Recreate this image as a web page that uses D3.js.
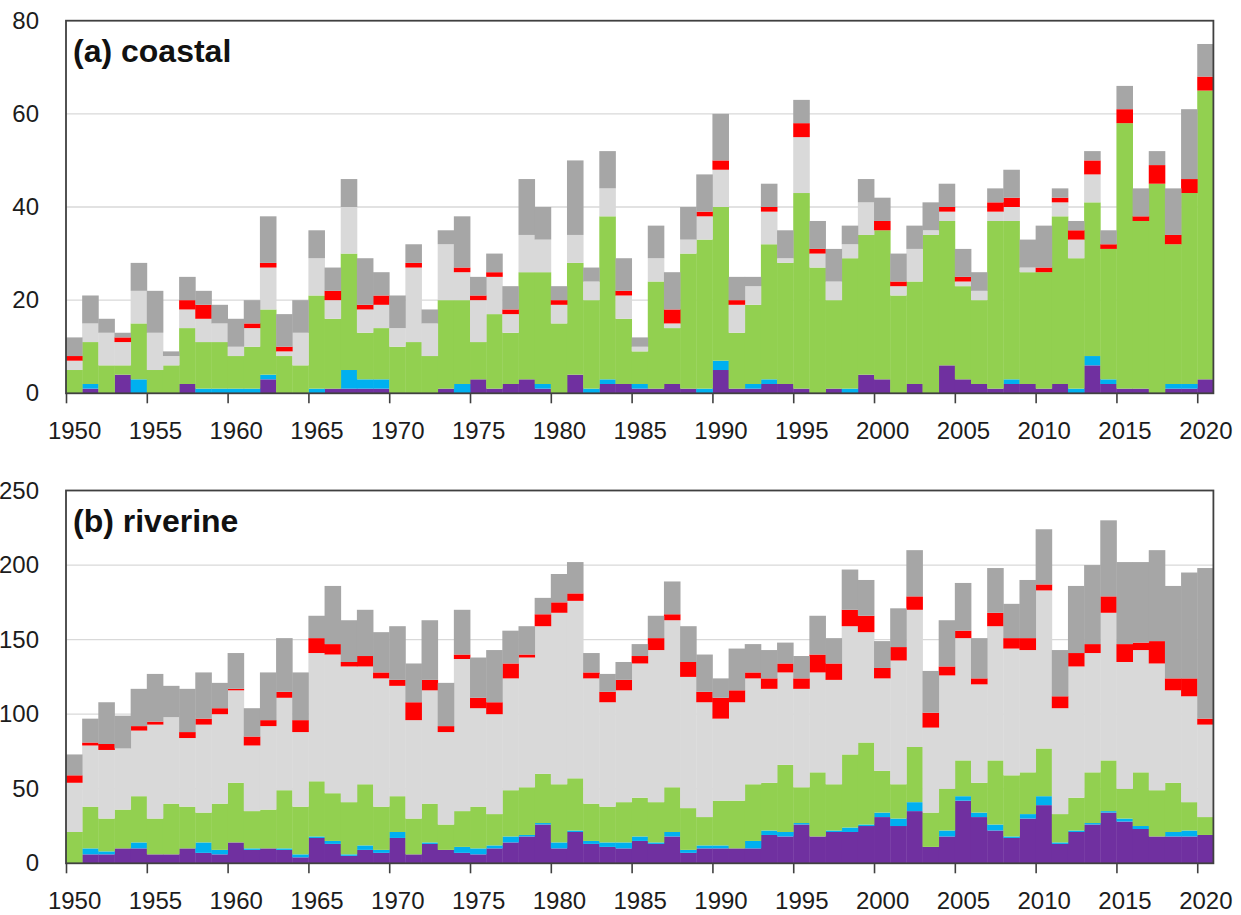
<!DOCTYPE html>
<html>
<head>
<meta charset="utf-8">
<script src="https://cdn.jsdelivr.net/npm/d3@7"></script>
<style>
  html, body { margin: 0; padding: 0; background: #ffffff; }
  svg { display: block; font-family: "Liberation Sans", Arial, sans-serif; }
</style>
</head>
<body>
<svg id="chart" width="1241" height="915"></svg>
<script>
// ---- data -------------------------------------------------------------
const years = d3.range(1950, 2021);
const xTickYears = [1950, 1955, 1960, 1965, 1970, 1975, 1980, 1985, 1990, 1995, 2000, 2005, 2010, 2015, 2020];
const coastalTicks = [0, 20, 40, 60, 80];
const riverineTicks = [0, 50, 100, 150, 200, 250];

// stacking order, bottom to top
const seriesColors = ["#7030A0", "#00B0F0", "#92D050", "#D9D9D9", "#FF0000", "#A6A6A6"];

// (a) coastal, 1950–2020
const coastalPurple = [0,1,0,4,0,0,0,2,0,0, 0,0,3,0,0,0,1,1,1,1, 0,0,0,1,0,3,1,2,3,1, 0,4,0,2,2,1,1,2,1,0, 5,1,1,2,2,1,0,1,0,4, 3,0,2,0,6,3,2,1,2,2, 1,2,0,6,2,1,1,0,1,1, 3];
const coastalBlue   = [0,1,0,0,3,0,0,0,1,1, 1,1,1,0,0,1,0,4,2,2, 0,0,0,0,2,0,0,0,0,1, 0,0,1,1,0,1,0,0,0,1, 2,0,1,1,0,0,0,0,1,0, 0,0,0,0,0,0,0,0,1,0, 0,0,1,2,1,0,0,0,1,1, 0];
const coastalGreen  = [5,9,6,2,12,5,6,12,10,10, 7,9,14,8,6,20,15,25,10,11, 10,11,8,19,18,8,16,11,23,24, 15,24,19,35,14,7,23,12,29,32, 33,12,17,29,26,42,27,19,28,30, 32,21,22,34,31,20,18,36,34,24, 25,36,28,33,28,57,36,45,30,41, 62];
const coastalLight  = [2,4,7,5,7,8,2,4,5,4, 2,4,9,1,7,8,4,10,5,5, 4,16,7,12,6,9,8,4,8,7, 4,6,4,6,5,1,5,1,3,5, 8,6,4,7,1,12,3,4,3,7, 0,2,7,1,2,1,2,2,3,1, 0,3,4,6,0,0,0,0,0,0, 0];
const coastalRed    = [1,0,0,1,0,0,0,2,3,0, 0,1,1,1,0,0,2,0,1,2, 0,1,0,0,1,1,1,1,0,0, 1,0,0,0,1,0,0,3,0,1, 2,1,0,1,0,3,1,0,0,0, 2,1,0,0,1,1,0,2,2,0, 1,1,2,3,1,3,1,4,2,3, 3];
const coastalDark   = [4,6,3,1,6,9,1,5,3,4, 6,5,10,7,7,6,5,6,10,5, 7,4,3,3,11,4,4,5,12,7, 3,16,3,8,7,2,7,8,7,8, 10,5,2,5,6,5,6,7,4,5, 5,6,5,6,5,6,4,3,6,6, 9,2,2,2,3,5,6,3,10,15, 7];

// (b) riverine, 1950–2020
const riverinePurple = [0,6,6,10,10,6,6,10,7,6, 14,9,10,9,4,17,13,5,9,7, 17,6,13,9,7,6,10,14,18,26, 10,21,13,11,10,15,13,18,7,10, 10,10,10,19,18,26,18,21,21,25, 31,25,35,11,18,42,31,22,17,30, 39,13,21,26,34,28,23,18,18,18, 19];
const riverineBlue   = [0,4,2,0,4,0,0,0,7,3, 0,1,0,1,2,1,2,1,3,2, 4,0,1,0,4,4,2,4,1,1, 4,1,2,3,4,3,1,3,2,2, 2,0,5,3,3,1,0,1,3,1, 3,5,6,0,4,3,3,4,1,3, 6,1,1,1,1,2,2,0,3,4, 0];
const riverineGreen  = [21,28,22,26,31,24,34,28,20,31, 40,25,26,39,32,37,32,35,41,29, 24,24,26,17,24,28,21,31,32,33, 39,35,25,24,27,26,27,30,28,19, 30,32,38,32,45,24,43,31,49,55, 28,23,37,23,28,24,20,43,41,28, 32,19,22,34,34,20,36,31,33,19, 12];
const riverineLight  = [33,41,46,41,44,63,58,46,59,60, 62,44,56,62,50,86,93,91,79,86, 74,66,76,62,102,66,67,75,87,99, 115,119,84,70,75,90,102,112,88,77, 55,66,71,63,62,66,67,70,86,74, 62,83,92,57,76,82,66,90,85,82, 106,71,88,80,99,85,82,85,62,71, 62];
const riverineRed    = [5,2,4,0,3,2,0,4,4,4, 1,6,4,4,8,10,7,3,7,4, 4,12,7,4,3,7,8,10,2,8, 7,5,4,7,7,5,8,4,10,7, 14,8,4,7,6,7,12,11,11,11, 7,9,9,10,6,5,4,9,7,8, 4,8,9,6,11,12,5,15,8,12, 4];
const riverineDark   = [14,16,28,22,25,32,21,29,31,17, 24,19,32,36,32,15,39,28,31,27, 36,26,40,29,30,27,35,22,19,11, 19,21,13,12,12,8,15,22,24,25, 13,28,19,19,14,15,26,17,27,24, 18,26,31,28,31,32,27,30,23,39, 37,31,45,53,51,55,54,61,62,71, 101];

const panels = [
  { title: "(a) coastal",  top: 20.7,  bottom: 393.3, yTicks: coastalTicks,
    series: [coastalPurple, coastalBlue, coastalGreen, coastalLight, coastalRed, coastalDark] },
  { title: "(b) riverine", top: 490.5, bottom: 863.3, yTicks: riverineTicks,
    series: [riverinePurple, riverineBlue, riverineGreen, riverineLight, riverineRed, riverineDark] }
];

// ---- drawing ----------------------------------------------------------
const svg = d3.select("#chart");
const left = 66, right = 1213.4;
const textColor = "#1c1c1c";
const frameColor = "#404040";

const x = d3.scaleLinear().domain([1950, 2021]).range([left, right]);
const keys = seriesColors.map((c, i) => "s" + i);

panels.forEach(p => {
  const yMax = p.yTicks[p.yTicks.length - 1];
  const y = d3.scaleLinear().domain([0, yMax]).range([p.bottom, p.top]);
  const g = svg.append("g");

  // horizontal gridlines
  g.append("g").selectAll("line")
    .data(p.yTicks.filter(t => t > 0 && t < yMax))
    .join("line")
    .attr("x1", left).attr("x2", right)
    .attr("y1", d => y(d)).attr("y2", d => y(d))
    .attr("stroke", "#d9d9d9").attr("stroke-width", 1.3);

  // stacked bars
  const rows = years.map((yr, i) => {
    const r = { year: yr };
    keys.forEach((k, j) => { r[k] = p.series[j][i]; });
    return r;
  });
  const stacked = d3.stack().keys(keys)(rows);

  g.append("g").selectAll("g")
    .data(stacked)
    .join("g")
    .attr("fill", (d, i) => seriesColors[i])
    .selectAll("rect")
    .data(d => d.filter(s => s[1] > s[0]))
    .join("rect")
    .attr("x", d => x(d.data.year))
    .attr("width", d => x(d.data.year + 1) - x(d.data.year) + 0.4)
    .attr("y", d => y(d[1]))
    .attr("height", d => y(d[0]) - y(d[1]));

  // plot frame
  g.append("rect")
    .attr("x", left).attr("y", p.top)
    .attr("width", right - left).attr("height", p.bottom - p.top)
    .attr("fill", "none").attr("stroke", frameColor).attr("stroke-width", 1.8);

  // y axis labels
  const yAxis = g.append("g")
    .attr("transform", `translate(${left},0)`)
    .call(d3.axisLeft(y).tickValues(p.yTicks).tickSize(0).tickPadding(27).tickFormat(d3.format("d")));
  yAxis.select(".domain").remove();
  yAxis.selectAll("text")
    .attr("fill", textColor).attr("font-size", 24)
    .attr("font-family", '"Liberation Sans", Arial, sans-serif');

  // x axis: ticks at bar edges, labels centred on the bars
  const halfBar = (x(1951) - x(1950)) / 2;
  const xAxis = g.append("g")
    .attr("transform", `translate(0,${p.bottom})`)
    .call(d3.axisBottom(x).tickValues(xTickYears).tickSize(10).tickFormat(d3.format("d")));
  xAxis.select(".domain").remove();
  xAxis.selectAll(".tick line").attr("stroke", frameColor).attr("stroke-width", 1.6);
  xAxis.selectAll("text")
    .attr("x", halfBar).attr("y", 37).attr("dy", "0.35em")
    .attr("fill", textColor).attr("font-size", 24)
    .attr("font-family", '"Liberation Sans", Arial, sans-serif');

  // panel title
  g.append("text")
    .attr("x", 73).attr("y", p.top + 41)
    .attr("font-size", 32).attr("font-weight", "bold")
    .attr("fill", "#111")
    .text(p.title);
});
</script>
</body>
</html>
